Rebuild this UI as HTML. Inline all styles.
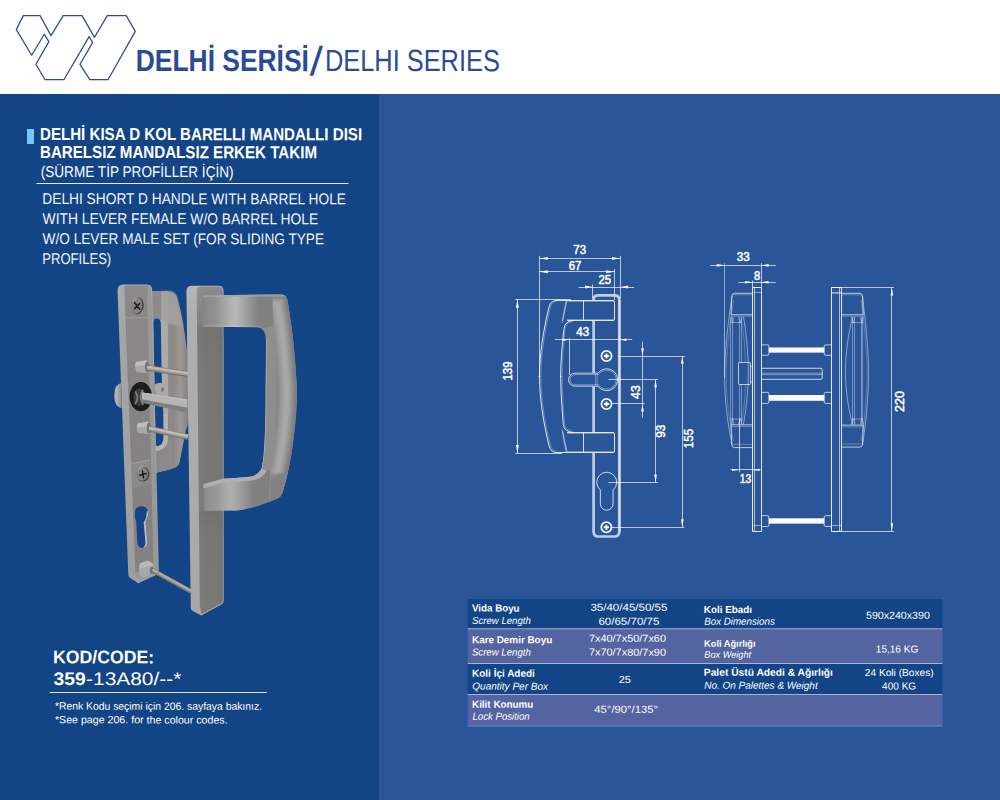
<!DOCTYPE html>
<html lang="tr">
<head>
<meta charset="utf-8">
<title>DELHİ SERİSİ / DELHI SERIES</title>
<style>
html,body{margin:0;padding:0;background:#fff;}
body{width:1000px;height:800px;overflow:hidden;}
svg{display:block;font-family:"Liberation Sans",sans-serif;}
</style>
</head>
<body>
<svg width="1000" height="800" viewBox="0 0 1000 800">
<rect x="0" y="0" width="1000" height="94" fill="#ffffff"/>
<rect x="0" y="94" width="379" height="706" fill="#124486"/>
<rect x="379" y="94" width="621" height="706" fill="#2a5699"/>
<rect x="467.7" y="599.0" width="474.7" height="29.4" fill="#124486"/>
<rect x="467.7" y="629.2" width="474.7" height="33.9" fill="#5464a0"/>
<rect x="467.7" y="664.0" width="474.7" height="30.1" fill="#124486"/>
<rect x="467.7" y="695.0" width="474.7" height="31.0" fill="#5464a0"/>
<rect x="467.7" y="628.3" width="474.7" height="1" fill="#a3b2da"/>
<rect x="467.7" y="663.0" width="474.7" height="1" fill="#a3b2da"/>
<rect x="467.7" y="694.0" width="474.7" height="1" fill="#a3b2da"/>
<rect x="467.7" y="725.6" width="474.7" height="0.8" fill="#7f8fc4"/>
<polygon points="23.3,15.6 40.1,15.6 51.0,35.6 63.2,15.6 82.1,15.6 94.4,37.4 107.3,15.6 126.2,15.6 135.3,31.4 108.0,79.7 89.8,79.7 80.0,64.3 92.6,42.6 89.1,36.6 63.9,79.7 45.0,79.7 35.9,64.3 48.9,41.6 44.3,34.2 31.7,55.2 16.3,29.6" fill="none" stroke="#2b4b99" stroke-width="1.25" stroke-linejoin="round"/>
<text transform="rotate(0.05 135.8 71.0)" x="135.8" y="71.0" font-size="30.7" font-weight="bold" font-style="normal" text-anchor="start" fill="#2b4b99" textLength="173.1" lengthAdjust="spacingAndGlyphs">DELHİ SERİSİ</text>
<text transform="translate(309.6,74.6) skewX(-10.5) scale(1,1.345)" x="0" y="0" font-size="30" font-weight="bold" fill="#2b4b99">/</text>
<text transform="rotate(0.05 324.9 71.0)" x="324.9" y="71.0" font-size="30.7" font-weight="normal" font-style="normal" text-anchor="start" fill="#2b4b99" textLength="175.0" lengthAdjust="spacingAndGlyphs">DELHI SERIES</text>
<text transform="rotate(0.05 40.0 140.0)" x="40.0" y="140.0" font-size="17.4" font-weight="bold" font-style="normal" text-anchor="start" fill="#ffffff" textLength="322.1" lengthAdjust="spacingAndGlyphs">DELHİ KISA D KOL BARELLI MANDALLI DISI</text>
<text transform="rotate(0.05 40.0 158.0)" x="40.0" y="158.0" font-size="17.4" font-weight="bold" font-style="normal" text-anchor="start" fill="#ffffff" textLength="277.0" lengthAdjust="spacingAndGlyphs">BARELSIZ MANDALSIZ ERKEK TAKIM</text>
<text transform="rotate(0.05 40.7 177.0)" x="40.7" y="177.0" font-size="15.6" font-weight="normal" font-style="normal" text-anchor="start" fill="#ffffff" textLength="192.9" lengthAdjust="spacingAndGlyphs">(SÜRME TİP PROFİLLER İÇİN)</text>
<text transform="rotate(0.05 42.3 204.0)" x="42.3" y="204.0" font-size="15.6" font-weight="normal" font-style="normal" text-anchor="start" fill="#f1f4fa" textLength="303.7" lengthAdjust="spacingAndGlyphs">DELHI SHORT D HANDLE WITH BARREL HOLE</text>
<text transform="rotate(0.05 42.6 224.0)" x="42.6" y="224.0" font-size="15.6" font-weight="normal" font-style="normal" text-anchor="start" fill="#f1f4fa" textLength="275.7" lengthAdjust="spacingAndGlyphs">WITH LEVER FEMALE W/O BARREL HOLE</text>
<text transform="rotate(0.05 42.6 244.0)" x="42.6" y="244.0" font-size="15.6" font-weight="normal" font-style="normal" text-anchor="start" fill="#f1f4fa" textLength="281.4" lengthAdjust="spacingAndGlyphs">W/O LEVER MALE SET (FOR SLIDING TYPE</text>
<text transform="rotate(0.05 42.3 264.0)" x="42.3" y="264.0" font-size="15.6" font-weight="normal" font-style="normal" text-anchor="start" fill="#f1f4fa" textLength="68.9" lengthAdjust="spacingAndGlyphs">PROFILES)</text>
<text transform="rotate(0.05 53.1 663.3)" x="53.1" y="663.3" font-size="18.2" font-weight="bold" font-style="normal" text-anchor="start" fill="#ffffff" textLength="101.0" lengthAdjust="spacingAndGlyphs">KOD/CODE:</text>
<text transform="rotate(0.05 53.6 684.9)" x="53.6" y="684.9" font-size="18.2" font-weight="bold" font-style="normal" text-anchor="start" fill="#ffffff" textLength="32.3" lengthAdjust="spacingAndGlyphs">359</text>
<text transform="rotate(0.05 86.1 684.9)" x="86.1" y="684.9" font-size="18.2" font-weight="normal" font-style="normal" text-anchor="start" fill="#ffffff" textLength="95.2" lengthAdjust="spacingAndGlyphs">-13A80/--*</text>
<text transform="rotate(0.05 54.9 709.6)" x="54.9" y="709.6" font-size="10.5" font-weight="normal" font-style="normal" text-anchor="start" fill="#ffffff" textLength="207.1" lengthAdjust="spacingAndGlyphs">*Renk Kodu seçimi için 206. sayfaya bakınız.</text>
<text transform="rotate(0.05 54.9 723.3)" x="54.9" y="723.3" font-size="10.5" font-weight="normal" font-style="normal" text-anchor="start" fill="#ffffff" textLength="172.7" lengthAdjust="spacingAndGlyphs">*See page 206. for the colour codes.</text>
<text transform="rotate(0.05 472.0 611.6)" x="472.0" y="611.6" font-size="10.2" font-weight="bold" font-style="normal" text-anchor="start" fill="#ffffff" textLength="47.6" lengthAdjust="spacingAndGlyphs">Vida Boyu</text>
<text transform="rotate(0.05 472.0 623.9)" x="472.0" y="623.9" font-size="10.2" font-weight="normal" font-style="italic" text-anchor="start" fill="#ffffff" textLength="58.8" lengthAdjust="spacingAndGlyphs">Screw Length</text>
<text transform="rotate(0.05 472.0 643.3)" x="472.0" y="643.3" font-size="10.2" font-weight="bold" font-style="normal" text-anchor="start" fill="#ffffff" textLength="80.2" lengthAdjust="spacingAndGlyphs">Kare Demir Boyu</text>
<text transform="rotate(0.05 471.9 655.6)" x="471.9" y="655.6" font-size="10.2" font-weight="normal" font-style="italic" text-anchor="start" fill="#ffffff" textLength="58.9" lengthAdjust="spacingAndGlyphs">Screw Length</text>
<text transform="rotate(0.05 472.0 676.8)" x="472.0" y="676.8" font-size="10.2" font-weight="bold" font-style="normal" text-anchor="start" fill="#ffffff" textLength="62.9" lengthAdjust="spacingAndGlyphs">Koli İçi Adedi</text>
<text transform="rotate(0.05 472.3 689.6)" x="472.3" y="689.6" font-size="10.2" font-weight="normal" font-style="italic" text-anchor="start" fill="#ffffff" textLength="75.8" lengthAdjust="spacingAndGlyphs">Quantity Per Box</text>
<text transform="rotate(0.05 472.0 707.7)" x="472.0" y="707.7" font-size="10.2" font-weight="bold" font-style="normal" text-anchor="start" fill="#ffffff" textLength="61.4" lengthAdjust="spacingAndGlyphs">Kilit Konumu</text>
<text transform="rotate(0.05 472.5 719.7)" x="472.5" y="719.7" font-size="10.2" font-weight="normal" font-style="italic" text-anchor="start" fill="#ffffff" textLength="57.2" lengthAdjust="spacingAndGlyphs">Lock Position</text>
<text transform="rotate(0.05 590.4 610.8)" x="590.4" y="610.8" font-size="10.2" font-weight="normal" font-style="normal" text-anchor="start" fill="#ffffff" textLength="77.0" lengthAdjust="spacingAndGlyphs">35/40/45/50/55</text>
<text transform="rotate(0.05 598.4 624.7)" x="598.4" y="624.7" font-size="10.2" font-weight="normal" font-style="normal" text-anchor="start" fill="#ffffff" textLength="61.0" lengthAdjust="spacingAndGlyphs">60/65/70/75</text>
<text transform="rotate(0.05 588.9 641.7)" x="588.9" y="641.7" font-size="10.2" font-weight="normal" font-style="normal" text-anchor="start" fill="#ffffff" textLength="77.1" lengthAdjust="spacingAndGlyphs">7x40/7x50/7x60</text>
<text transform="rotate(0.05 588.9 655.6)" x="588.9" y="655.6" font-size="10.2" font-weight="normal" font-style="normal" text-anchor="start" fill="#ffffff" textLength="77.1" lengthAdjust="spacingAndGlyphs">7x70/7x80/7x90</text>
<text transform="rotate(0.05 618.7 682.9)" x="618.7" y="682.9" font-size="10.2" font-weight="normal" font-style="normal" text-anchor="start" fill="#ffffff" textLength="12.2" lengthAdjust="spacingAndGlyphs">25</text>
<text transform="rotate(0.05 594.3 712.8)" x="594.3" y="712.8" font-size="10.2" font-weight="normal" font-style="normal" text-anchor="start" fill="#ffffff" textLength="63.8" lengthAdjust="spacingAndGlyphs">45°/90°/135°</text>
<text transform="rotate(0.05 703.8 612.9)" x="703.8" y="612.9" font-size="10.2" font-weight="bold" font-style="normal" text-anchor="start" fill="#ffffff" textLength="48.3" lengthAdjust="spacingAndGlyphs">Koli Ebadı</text>
<text transform="rotate(0.05 704.2 624.7)" x="704.2" y="624.7" font-size="10.2" font-weight="normal" font-style="italic" text-anchor="start" fill="#ffffff" textLength="70.6" lengthAdjust="spacingAndGlyphs">Box Dimensions</text>
<text transform="rotate(0.05 704.1 646.8)" x="704.1" y="646.8" font-size="9.3" font-weight="bold" font-style="normal" text-anchor="start" fill="#ffffff" textLength="51.5" lengthAdjust="spacingAndGlyphs">Koli Ağırlığı</text>
<text transform="rotate(0.05 704.3 657.7)" x="704.3" y="657.7" font-size="9.3" font-weight="normal" font-style="italic" text-anchor="start" fill="#ffffff" textLength="46.8" lengthAdjust="spacingAndGlyphs">Box Weight</text>
<text transform="rotate(0.05 703.8 675.7)" x="703.8" y="675.7" font-size="10.2" font-weight="bold" font-style="normal" text-anchor="start" fill="#ffffff" textLength="129.1" lengthAdjust="spacingAndGlyphs">Palet Üstü Adedi &amp; Ağırlığı</text>
<text transform="rotate(0.05 704.2 688.8)" x="704.2" y="688.8" font-size="10.2" font-weight="normal" font-style="italic" text-anchor="start" fill="#ffffff" textLength="113.5" lengthAdjust="spacingAndGlyphs">No. On Palettes &amp; Weight</text>
<text transform="rotate(0.05 866.0 618.8)" x="866.0" y="618.8" font-size="10.2" font-weight="normal" font-style="normal" text-anchor="start" fill="#ffffff" textLength="63.8" lengthAdjust="spacingAndGlyphs">590x240x390</text>
<text transform="rotate(0.05 875.8 652.4)" x="875.8" y="652.4" font-size="10.2" font-weight="normal" font-style="normal" text-anchor="start" fill="#ffffff" textLength="42.5" lengthAdjust="spacingAndGlyphs">15,16 KG</text>
<text transform="rotate(0.05 864.8 676.0)" x="864.8" y="676.0" font-size="10.2" font-weight="normal" font-style="normal" text-anchor="start" fill="#ffffff" textLength="68.8" lengthAdjust="spacingAndGlyphs">24 Koli (Boxes)</text>
<text transform="rotate(0.05 882.1 689.6)" x="882.1" y="689.6" font-size="10.2" font-weight="normal" font-style="normal" text-anchor="start" fill="#ffffff" textLength="34.1" lengthAdjust="spacingAndGlyphs">400 KG</text>
<rect x="27" y="129" width="7" height="15" fill="#72cbf2"/>
<rect x="36.4" y="183" width="312" height="1" fill="#e6ecf7"/>
<rect x="49.6" y="692" width="217.2" height="1" fill="#dfe6f3"/>
<g fill="none" stroke="#ffffff" stroke-linecap="butt" stroke-linejoin="round">
<path d="M539.30,258.50 L620.50,258.50" stroke-width="0.85" stroke-opacity="0.8"/>
<polygon points="539.30,258.40 547.80,256.95 547.80,259.85" fill="#fff" fill-opacity="0.95" stroke="none"/>
<polygon points="620.50,258.40 612.00,256.95 612.00,259.85" fill="#fff" fill-opacity="0.95" stroke="none"/>
<text x="579.70" y="253.60" font-size="12.0" text-anchor="middle" textLength="12.8" lengthAdjust="spacingAndGlyphs" fill="#fff" stroke="#fff" stroke-width="0.55" stroke-opacity="0.9">73</text>
<path d="M539.50,255.80 L539.50,377.00" stroke-width="0.85" stroke-opacity="0.8"/>
<path d="M620.50,255.80 L620.50,298.50" stroke-width="0.85" stroke-opacity="0.8"/>
<path d="M539.30,271.50 L614.60,271.50" stroke-width="0.85" stroke-opacity="0.8"/>
<polygon points="539.30,271.80 547.80,270.35 547.80,273.25" fill="#fff" fill-opacity="0.95" stroke="none"/>
<polygon points="614.60,271.80 606.10,270.35 606.10,273.25" fill="#fff" fill-opacity="0.95" stroke="none"/>
<text x="575.10" y="270.10" font-size="12.0" text-anchor="middle" textLength="12.7" lengthAdjust="spacingAndGlyphs" fill="#fff" stroke="#fff" stroke-width="0.55" stroke-opacity="0.9">67</text>
<path d="M614.50,269.00 L614.50,300.00" stroke-width="0.85" stroke-opacity="0.8"/>
<path d="M578.50,287.50 L634.20,287.50" stroke-width="0.85" stroke-opacity="0.8"/>
<polygon points="592.80,287.00 585.00,285.55 585.00,288.45" fill="#fff" fill-opacity="0.95" stroke="none"/>
<polygon points="620.40,287.00 628.20,285.55 628.20,288.45" fill="#fff" fill-opacity="0.95" stroke="none"/>
<text x="604.80" y="283.75" font-size="12.0" text-anchor="middle" textLength="12.7" lengthAdjust="spacingAndGlyphs" fill="#fff" stroke="#fff" stroke-width="0.55" stroke-opacity="0.9">25</text>
<path d="M592.50,284.40 L592.50,298.70" stroke-width="0.85" stroke-opacity="0.8"/>
<path d="M593.6,300 L593.6,300 Q593.6,295.4 598.4,295.4 L614.4,295.4 Q619.3,295.4 619.3,300 L619.3,531.8 Q619.3,536.5 614.4,536.5 L598.4,536.5 Q593.6,536.5 593.6,531.8 L593.6,453" stroke-width="2.7" stroke-opacity="0.7" fill="none"/>
<path d="M593.6,321 L593.6,373 M593.6,386.4 L593.6,432" stroke-width="2.7" stroke-opacity="0.7" fill="none"/>
<path d="M619.9,300 L619.9,531.8" stroke-width="1.6" stroke-opacity="0.45" fill="none"/>
<path d="M567.2,300.5 L613,300.5 Q614.5,300.5 614.5,302.0 L614.5,319.0 Q614.5,320.5 613,320.5 L567.2,320.5" stroke-width="1.0" stroke-opacity="0.85" fill="none"/>
<path d="M567.2,301.5 L613.4,301.5 M567.2,319.5 L613.4,319.5" stroke-width="1.0" stroke-opacity="0.35" fill="none"/>
<path d="M583.50,300.50 L583.50,320.50" stroke-width="1.0" stroke-opacity="0.8"/>
<path d="M567.2,432.5 L613,432.5 Q614.5,432.5 614.5,434.0 L614.5,451.0 Q614.5,452.5 613,452.5 L567.2,452.5" stroke-width="1.0" stroke-opacity="0.85" fill="none"/>
<path d="M567.2,433.5 L613.4,433.5 M567.2,451.5 L613.4,451.5" stroke-width="1.0" stroke-opacity="0.35" fill="none"/>
<path d="M583.50,432.50 L583.50,452.50" stroke-width="1.0" stroke-opacity="0.8"/>
<path d="M567.2,300.5 L556,300.5 Q550.6,300.8 549,307 C543.2,331 539.5,355 539.5,376.3 C539.5,398 543.2,422 549,445.5 Q550.6,452.2 556,452.5 L567.2,452.5" stroke-width="1.0" stroke-opacity="0.85" fill="none"/>
<path d="M556.5,301.4 Q551.6,301.8 550.3,307.6 C544.6,331 540.9,355 540.9,376.3 C540.9,398 544.6,422 550.3,444.9 Q551.6,450.7 556.5,451.1" stroke-width="0.6" stroke-opacity="0.5" fill="none"/>
<path d="M574,320.5 Q564.6,321 564,328.5 C562,346 560.7,361 560.7,376.3 C560.7,392 562,408 563.3,424.5 Q564,432 574,432.5" stroke-width="1.0" stroke-opacity="0.85" fill="none"/>
<path d="M572,321.8 Q565.8,322.4 565.3,328.8 C563.4,346 562.1,361 562.1,376.3 C562.1,392 563.4,408 564.6,424 Q565.2,430 572,430.5" stroke-width="0.6" stroke-opacity="0.45" fill="none"/>
<path d="M567.2,300.2 L562.7,320.6 M566,300.6 L562,323" stroke-width="0.7" stroke-opacity="0.65" fill="none"/>
<path d="M567.2,452.3 L562.7,431.6 M566,451.9 L562,429.4" stroke-width="0.7" stroke-opacity="0.65" fill="none"/>
<path d="M538.60,376.50 L540.40,376.50" stroke-width="0.8" stroke-opacity="0.8"/>
<path d="M559.90,376.50 L561.60,376.50" stroke-width="0.8" stroke-opacity="0.8"/>
<path d="M515.20,299.50 L571.00,299.50" stroke-width="0.85" stroke-opacity="0.8"/>
<path d="M515.20,453.50 L562.00,453.50" stroke-width="0.85" stroke-opacity="0.8"/>
<path d="M517.50,299.50 L517.50,453.20" stroke-width="0.85" stroke-opacity="0.8"/>
<polygon points="517.40,299.50 515.95,307.80 518.85,307.80" fill="#fff" fill-opacity="0.95" stroke="none"/>
<polygon points="517.40,453.20 515.95,444.90 518.85,444.90" fill="#fff" fill-opacity="0.95" stroke="none"/>
<text transform="translate(511.70,371.00) rotate(-90)" x="0" y="0" font-size="12.0" text-anchor="middle" textLength="19.0" lengthAdjust="spacingAndGlyphs" fill="#fff" stroke="#fff" stroke-width="0.55" stroke-opacity="0.9">139</text>
<path d="M554.90,339.50 L632.20,339.50" stroke-width="0.85" stroke-opacity="0.8"/>
<polygon points="569.20,339.80 562.20,338.50 562.20,341.10" fill="#fff" fill-opacity="0.95" stroke="none"/>
<polygon points="620.40,339.80 626.40,338.50 626.40,341.10" fill="#fff" fill-opacity="0.95" stroke="none"/>
<text x="582.80" y="336.20" font-size="12.0" text-anchor="middle" textLength="13.0" lengthAdjust="spacingAndGlyphs" fill="#fff" stroke="#fff" stroke-width="0.55" stroke-opacity="0.9">43</text>
<path d="M569.50,338.00 L569.50,375.00" stroke-width="0.85" stroke-opacity="0.8"/>
<circle cx="606.50" cy="356.00" r="5.1" stroke-width="1.75" stroke-opacity="0.95" fill="none"/>
<path d="M603.9,356 L609.1,356 M606.5,353.4 L606.5,358.6" stroke-width="1.9" stroke-opacity="0.97" fill="none"/>
<circle cx="606.50" cy="404.00" r="5.1" stroke-width="1.75" stroke-opacity="0.95" fill="none"/>
<path d="M603.9,404 L609.1,404 M606.5,401.4 L606.5,406.6" stroke-width="1.9" stroke-opacity="0.97" fill="none"/>
<circle cx="606.40" cy="527.30" r="5.1" stroke-width="1.75" stroke-opacity="0.95" fill="none"/>
<path d="M603.8,527.3 L609.0,527.3 M606.4,524.6999999999999 L606.4,529.9" stroke-width="1.9" stroke-opacity="0.97" fill="none"/>
<path d="M597.83,373.20 A11.0,11.0 0 1 1 597.83,386.20 L575.00,386.20 A6.5,6.5 0 0 1 575.00,373.20 Z" stroke-width="0.85" stroke-opacity="0.85" fill="none"/>
<path d="M598.57,374.60 A9.6,9.6 0 1 1 598.57,384.80 L575.10,384.80 A5.1,5.1 0 0 1 575.10,374.60 Z" stroke-width="0.65" stroke-opacity="0.6" fill="none"/>
<path d="M595.6,373.6 L595.6,385.8 M597.2,374 L597.2,385.4" stroke-width="0.6" stroke-opacity="0.55" fill="none"/>
<path d="M600.35,489.98 A10.0,10.0 0 1 1 613.05,489.98 L613.05,503.85 A6.35,6.35 0 0 1 600.35,503.85 Z" stroke-width="0.9" stroke-opacity="0.85" fill="none"/>
<path d="M617.50,356.50 L685.20,356.50" stroke-width="0.85" stroke-opacity="0.8"/>
<path d="M608.50,379.50 L657.90,379.50" stroke-width="0.85" stroke-opacity="0.8"/>
<path d="M612.40,403.50 L644.90,403.50" stroke-width="0.85" stroke-opacity="0.8"/>
<path d="M608.40,482.50 L657.75,482.50" stroke-width="0.85" stroke-opacity="0.8"/>
<path d="M611.60,527.50 L684.40,527.50" stroke-width="0.85" stroke-opacity="0.8"/>
<path d="M642.50,341.70 L642.50,417.75" stroke-width="0.85" stroke-opacity="0.8"/>
<polygon points="642.50,356.00 641.20,348.20 643.80,348.20" fill="#fff" fill-opacity="0.95" stroke="none"/>
<polygon points="642.50,403.80 641.20,411.60 643.80,411.60" fill="#fff" fill-opacity="0.95" stroke="none"/>
<text transform="translate(640.30,392.10) rotate(-90)" x="0" y="0" font-size="12.0" text-anchor="middle" textLength="13.6" lengthAdjust="spacingAndGlyphs" fill="#fff" stroke="#fff" stroke-width="0.55" stroke-opacity="0.9">43</text>
<path d="M655.50,379.80 L655.50,482.25" stroke-width="0.85" stroke-opacity="0.8"/>
<polygon points="655.60,379.80 654.30,387.60 656.90,387.60" fill="#fff" fill-opacity="0.95" stroke="none"/>
<polygon points="655.60,482.25 654.30,474.45 656.90,474.45" fill="#fff" fill-opacity="0.95" stroke="none"/>
<text transform="translate(664.60,431.20) rotate(-90)" x="0" y="0" font-size="12.0" text-anchor="middle" textLength="13.0" lengthAdjust="spacingAndGlyphs" fill="#fff" stroke="#fff" stroke-width="0.55" stroke-opacity="0.9">93</text>
<path d="M682.50,356.00 L682.50,527.10" stroke-width="0.85" stroke-opacity="0.8"/>
<polygon points="682.30,356.00 681.00,363.80 683.60,363.80" fill="#fff" fill-opacity="0.95" stroke="none"/>
<polygon points="682.30,527.10 681.00,519.30 683.60,519.30" fill="#fff" fill-opacity="0.95" stroke="none"/>
<text transform="translate(693.00,438.60) rotate(-90)" x="0" y="0" font-size="12.0" text-anchor="middle" textLength="19.5" lengthAdjust="spacingAndGlyphs" fill="#fff" stroke="#fff" stroke-width="0.55" stroke-opacity="0.9">155</text>
<path d="M710.40,265.50 L775.80,265.50" stroke-width="0.85" stroke-opacity="0.8"/>
<polygon points="724.40,265.35 716.80,264.05 716.80,266.65" fill="#fff" fill-opacity="0.95" stroke="none"/>
<polygon points="761.10,265.35 768.70,264.05 768.70,266.65" fill="#fff" fill-opacity="0.95" stroke="none"/>
<text x="743.30" y="260.50" font-size="12.0" text-anchor="middle" textLength="13.0" lengthAdjust="spacingAndGlyphs" fill="#fff" stroke="#fff" stroke-width="0.55" stroke-opacity="0.9">33</text>
<path d="M724.50,263.10 L724.50,378.00" stroke-width="0.85" stroke-opacity="0.6"/>
<path d="M761.50,263.10 L761.50,287.50" stroke-width="0.85" stroke-opacity="0.8"/>
<path d="M738.35,282.50 L775.80,282.50" stroke-width="0.85" stroke-opacity="0.8"/>
<polygon points="752.65,282.25 745.05,280.95 745.05,283.55" fill="#fff" fill-opacity="0.95" stroke="none"/>
<polygon points="761.10,282.25 768.70,280.95 768.70,283.55" fill="#fff" fill-opacity="0.95" stroke="none"/>
<text x="757.10" y="280.00" font-size="12.0" text-anchor="middle" textLength="6.2" lengthAdjust="spacingAndGlyphs" fill="#fff" stroke="#fff" stroke-width="0.55" stroke-opacity="0.9">8</text>
<path d="M752.50,280.30 L752.50,287.50" stroke-width="0.85" stroke-opacity="0.8"/>
<rect x="752.50" y="287.50" width="9.00" height="244.00" rx="0" ry="0" stroke-width="1.0" stroke-opacity="0.88" fill="none"/>
<path d="M754.50,287.50 L754.50,531.25" stroke-width="1.0" stroke-opacity="0.6"/>
<path d="M752.65,292.50 L761.10,292.50" stroke-width="0.7" stroke-opacity="0.65"/>
<path d="M752.65,525.50 L761.10,525.50" stroke-width="0.7" stroke-opacity="0.65"/>
<rect x="831.50" y="287.50" width="10.00" height="244.00" rx="0" ry="0" stroke-width="1.0" stroke-opacity="0.88" fill="none"/>
<path d="M839.50,287.50 L839.50,531.25" stroke-width="1.0" stroke-opacity="0.6"/>
<path d="M831.85,292.50 L841.50,292.50" stroke-width="0.7" stroke-opacity="0.65"/>
<path d="M831.85,525.50 L841.50,525.50" stroke-width="0.7" stroke-opacity="0.65"/>
<path d="M752.65,293.3 L734.5,293.3 Q732,293.5 731.85,296 L731,314.75 L752.65,314.75" stroke-width="0.85" stroke-opacity="0.8" fill="none"/>
<path d="M731,316.2 L752.65,316.2 M733,294.8 L752.65,294.8" stroke-width="0.6" stroke-opacity="0.5" fill="none"/>
<path d="M752.65,447.6 L734.5,447.6 Q732,447.4 731.85,445 L731,424.85 L752.65,424.85" stroke-width="0.85" stroke-opacity="0.8" fill="none"/>
<path d="M731,426.6 L752.65,426.6 M733,444.4 L752.65,444.4" stroke-width="0.6" stroke-opacity="0.5" fill="none"/>
<path d="M841.5,293.3 L859.8,293.3 Q862.3,293.5 862.45,296 L863.3,314.75 L841.5,314.75" stroke-width="0.85" stroke-opacity="0.8" fill="none"/>
<path d="M831.85,293.3 L841.5,293.3" stroke-width="0.7" stroke-opacity="0.7" fill="none"/>
<path d="M863.3,316.2 L841.5,316.2 M861.3,294.8 L841.5,294.8" stroke-width="0.6" stroke-opacity="0.5" fill="none"/>
<path d="M841.5,447.1 L859.8,447.1 Q862.3,446.9 862.45,444.6 L863.3,425.1 L841.5,425.1" stroke-width="0.85" stroke-opacity="0.8" fill="none"/>
<path d="M863.3,426.8 L841.5,426.8 M861.3,444 L841.5,444" stroke-width="0.6" stroke-opacity="0.5" fill="none"/>
<path d="M732,296 C727,330 724.6,355 724.6,377 C724.6,398 727,420 732,445" stroke-width="0.7" stroke-opacity="0.65" fill="none"/>
<path d="M733.5,300 C729,330 726.2,355 726.2,377 C726.2,398 729,420 733.5,441" stroke-width="0.5" stroke-opacity="0.45" fill="none"/>
<path d="M743.5,317 C746.5,335 748.4,355 748.4,371 C748.4,388 746.5,408 743.5,424" stroke-width="0.7" stroke-opacity="0.65" fill="none"/>
<path d="M741.5,319 C744,335 745.3,350 745.4,362.4 M745.4,384.5 C745.2,398 744,410 741.5,423" stroke-width="0.5" stroke-opacity="0.45" fill="none"/>
<path d="M730.50,317.00 L730.50,424.50" stroke-width="0.6" stroke-opacity="0.6"/>
<path d="M732.50,317.00 L732.50,424.50" stroke-width="0.6" stroke-opacity="0.6"/>
<path d="M739.50,317.00 L739.50,362.40" stroke-width="0.6" stroke-opacity="0.6"/>
<path d="M739.50,384.50 L739.50,424.50" stroke-width="0.6" stroke-opacity="0.6"/>
<path d="M741.50,317.00 L741.50,362.40" stroke-width="0.6" stroke-opacity="0.6"/>
<path d="M741.50,384.50 L741.50,424.50" stroke-width="0.6" stroke-opacity="0.6"/>
<path d="M731,317 L732.5,323 L734,317 M738.5,317 L740.3,323 L742,317 M730.5,322.5 L741.6,322.5" stroke-width="0.6" stroke-opacity="0.6" fill="none"/>
<path d="M731,424.5 L732.5,418.5 L734,424.5 M738.5,424.5 L740.3,418.5 L742,424.5 M730.5,419 L741.6,419" stroke-width="0.6" stroke-opacity="0.6" fill="none"/>
<rect x="738.50" y="362.50" width="12.00" height="22.00" rx="0.8" ry="0.8" stroke-width="0.85" stroke-opacity="0.8" fill="none"/>
<path d="M750,366.3 L752.65,366.3 M750,381.9 L752.65,381.9" stroke-width="0.7" stroke-opacity="0.7" fill="none"/>
<path d="M852.5,317 C848,335 845.5,355 845.5,371 C845.5,388 848,408 852.5,424.5" stroke-width="0.7" stroke-opacity="0.65" fill="none"/>
<path d="M862.5,296 C866.5,330 868.6,355 868.6,371 C868.6,392 866.5,420 862.5,445" stroke-width="0.7" stroke-opacity="0.65" fill="none"/>
<path d="M861,300 C865,330 867,355 867,371 C867,392 865,420 861,441" stroke-width="0.5" stroke-opacity="0.45" fill="none"/>
<path d="M852.50,317.00 L852.50,424.50" stroke-width="0.6" stroke-opacity="0.6"/>
<path d="M854.50,317.00 L854.50,424.50" stroke-width="0.6" stroke-opacity="0.6"/>
<path d="M861.50,317.00 L861.50,424.50" stroke-width="0.6" stroke-opacity="0.6"/>
<path d="M862.50,317.00 L862.50,424.50" stroke-width="0.6" stroke-opacity="0.6"/>
<path d="M851.5,317 L853.2,323 L855,317 M860,317 L861.8,323 L863.6,317 M852.2,322.5 L862.9,322.5" stroke-width="0.6" stroke-opacity="0.6" fill="none"/>
<path d="M851.5,424.5 L853.2,418.5 L855,424.5 M860,424.5 L861.8,418.5 L863.6,424.5 M852.2,419 L862.9,419" stroke-width="0.6" stroke-opacity="0.6" fill="none"/>
<rect x="768.9" y="347.45" width="55.3" height="5.20" fill="#fff" fill-opacity="0.97" stroke="none"/>
<path d="M761.6,344.85 L767.6,344.85 Q768.9,344.85 768.9,346.15000000000003 L768.9,353.95 Q768.9,355.25 767.6,355.25 L761.6,355.25" stroke-width="0.85" stroke-opacity="0.8" fill="none"/>
<path d="M831.6,344.85 L825.5,344.85 Q824.2,344.85 824.2,346.15000000000003 L824.2,353.95 Q824.2,355.25 825.5,355.25 L831.6,355.25" stroke-width="0.85" stroke-opacity="0.8" fill="none"/>
<rect x="768.9" y="395.0" width="55.3" height="5.80" fill="#fff" fill-opacity="0.97" stroke="none"/>
<path d="M761.6,392.35 L767.6,392.35 Q768.9,392.35 768.9,393.65000000000003 L768.9,402.09999999999997 Q768.9,403.4 767.6,403.4 L761.6,403.4" stroke-width="0.85" stroke-opacity="0.8" fill="none"/>
<path d="M831.6,392.35 L825.5,392.35 Q824.2,392.35 824.2,393.65000000000003 L824.2,402.09999999999997 Q824.2,403.4 825.5,403.4 L831.6,403.4" stroke-width="0.85" stroke-opacity="0.8" fill="none"/>
<rect x="768.9" y="518.3" width="55.3" height="5.35" fill="#fff" fill-opacity="0.97" stroke="none"/>
<path d="M761.6,515.7 L767.6,515.7 Q768.9,515.7 768.9,517.0 L768.9,525.2 Q768.9,526.5 767.6,526.5 L761.6,526.5" stroke-width="0.85" stroke-opacity="0.8" fill="none"/>
<path d="M831.6,515.7 L825.5,515.7 Q824.2,515.7 824.2,517.0 L824.2,525.2 Q824.2,526.5 825.5,526.5 L831.6,526.5" stroke-width="0.85" stroke-opacity="0.8" fill="none"/>
<path d="M761.6,368.25 L820.8,368.25 Q822.2,368.25 822.2,369.7 L822.2,377.9 Q822.2,379.3 820.8,379.3 L761.6,379.3" stroke-width="0.9" stroke-opacity="0.85" fill="none"/>
<path d="M761.6,373.2 L822.2,373.2 M761.6,374.6 L822.2,374.6" stroke-width="0.6" stroke-opacity="0.7" fill="none"/>
<path d="M831.20,287.50 L893.90,287.50" stroke-width="0.85" stroke-opacity="0.8"/>
<path d="M832.00,531.50 L893.90,531.50" stroke-width="0.85" stroke-opacity="0.8"/>
<path d="M891.50,287.70 L891.50,531.00" stroke-width="0.85" stroke-opacity="0.8"/>
<polygon points="891.90,287.70 890.60,295.50 893.20,295.50" fill="#fff" fill-opacity="0.95" stroke="none"/>
<polygon points="891.90,531.00 890.60,523.20 893.20,523.20" fill="#fff" fill-opacity="0.95" stroke="none"/>
<text transform="translate(904.00,401.50) rotate(-90)" x="0" y="0" font-size="12.0" text-anchor="middle" textLength="20.9" lengthAdjust="spacingAndGlyphs" fill="#fff" stroke="#fff" stroke-width="0.55" stroke-opacity="0.9">220</text>
<path d="M730.45,469.50 L760.50,469.50" stroke-width="0.85" stroke-opacity="0.8"/>
<polygon points="739.00,469.90 732.00,468.70 732.00,471.10" fill="#fff" fill-opacity="0.95" stroke="none"/>
<polygon points="752.65,469.90 759.65,468.70 759.65,471.10" fill="#fff" fill-opacity="0.95" stroke="none"/>
<path d="M739.50,419.00 L739.50,472.30" stroke-width="0.85" stroke-opacity="0.8"/>
<text x="745.50" y="482.80" font-size="12.0" text-anchor="middle" textLength="11.5" lengthAdjust="spacingAndGlyphs" fill="#fff" stroke="#fff" stroke-width="0.55" stroke-opacity="0.9">13</text>
</g>
<defs>
<filter id="fSoft" x="-5%" y="-5%" width="110%" height="110%"><feGaussianBlur stdDeviation="0.35"/></filter>
<filter id="fB05" x="-20%" y="-20%" width="140%" height="140%"><feGaussianBlur stdDeviation="0.5"/></filter>
<filter id="fB1" x="-20%" y="-20%" width="140%" height="140%"><feGaussianBlur stdDeviation="0.9"/></filter>
<filter id="fB2" x="-30%" y="-30%" width="160%" height="160%"><feGaussianBlur stdDeviation="1.8"/></filter>
<linearGradient id="gArm" x1="201" y1="0" x2="290" y2="0" gradientUnits="userSpaceOnUse">
 <stop offset="0" stop-color="#7d7d7d"/><stop offset="0.03" stop-color="#868686"/>
 <stop offset="0.18" stop-color="#949494"/><stop offset="0.28" stop-color="#a8a8a8"/>
 <stop offset="0.385" stop-color="#b9b9b9"/><stop offset="0.48" stop-color="#a5a5a5"/>
 <stop offset="0.58" stop-color="#8e8e8e"/><stop offset="0.64" stop-color="#818181"/>
 <stop offset="1" stop-color="#7f7f7f"/>
</linearGradient>
<linearGradient id="gArm2" x1="203" y1="0" x2="290" y2="0" gradientUnits="userSpaceOnUse">
 <stop offset="0" stop-color="#787878"/><stop offset="0.025" stop-color="#8c8c8c"/>
 <stop offset="0.16" stop-color="#999999"/><stop offset="0.31" stop-color="#b0b0b0"/>
 <stop offset="0.42" stop-color="#a0a0a0"/><stop offset="0.52" stop-color="#8c8c8c"/>
 <stop offset="0.58" stop-color="#808080"/><stop offset="1" stop-color="#7e7e7e"/>
</linearGradient>
<linearGradient id="gFront" x1="0" y1="285" x2="0" y2="615" gradientUnits="userSpaceOnUse">
 <stop offset="0" stop-color="#a8a6a4"/><stop offset="0.006" stop-color="#8e8c8a"/>
 <stop offset="0.03" stop-color="#8a8886"/><stop offset="0.12" stop-color="#7c7a78"/>
 <stop offset="0.13" stop-color="#747270"/><stop offset="0.25" stop-color="#787674"/>
 <stop offset="0.683" stop-color="#797775"/><stop offset="0.69" stop-color="#72706e"/>
 <stop offset="0.75" stop-color="#787674"/><stop offset="1" stop-color="#7b7977"/>
</linearGradient>
<linearGradient id="gBevF" x1="0" y1="285" x2="0" y2="615" gradientUnits="userSpaceOnUse">
 <stop offset="0" stop-color="#b6b6b6"/><stop offset="0.1" stop-color="#afafaf"/><stop offset="1" stop-color="#a8a8a8"/>
</linearGradient>
<linearGradient id="gBevB" x1="0" y1="284" x2="0" y2="585" gradientUnits="userSpaceOnUse">
 <stop offset="0" stop-color="#ababab"/><stop offset="0.15" stop-color="#a5a5a5"/><stop offset="1" stop-color="#9e9e9e"/>
</linearGradient>
<linearGradient id="gBack" x1="0" y1="284" x2="0" y2="585" gradientUnits="userSpaceOnUse">
 <stop offset="0" stop-color="#8d8b89"/><stop offset="0.2" stop-color="#868584"/><stop offset="1" stop-color="#838281"/>
</linearGradient>
<linearGradient id="gBGrip" x1="161.2" y1="0" x2="188" y2="0" gradientUnits="userSpaceOnUse">
 <stop offset="0" stop-color="#adadad"/><stop offset="0.24" stop-color="#a9a9a9"/>
 <stop offset="0.27" stop-color="#8e8b88"/><stop offset="0.45" stop-color="#8a8784"/>
 <stop offset="0.72" stop-color="#9a9794"/><stop offset="0.92" stop-color="#8a8886"/><stop offset="1" stop-color="#838383"/>
</linearGradient>
<linearGradient id="gSpin" x1="0" y1="0" x2="0" y2="1">
 <stop offset="0" stop-color="#bdbdbd"/><stop offset="0.58" stop-color="#b2b2b2"/><stop offset="0.64" stop-color="#878787"/><stop offset="1" stop-color="#7d7d7d"/>
</linearGradient>
<linearGradient id="gKnob" x1="113" y1="0" x2="123" y2="0" gradientUnits="userSpaceOnUse">
 <stop offset="0" stop-color="#a2a2a2"/><stop offset="0.35" stop-color="#b4b4b4"/><stop offset="1" stop-color="#828282"/>
</linearGradient>
<linearGradient id="gFaceX" x1="196" y1="0" x2="223" y2="0" gradientUnits="userSpaceOnUse">
 <stop offset="0" stop-color="#ffffff" stop-opacity="0.05"/><stop offset="0.4" stop-color="#ffffff" stop-opacity="0"/><stop offset="1" stop-color="#000000" stop-opacity="0.03"/>
</linearGradient>
</defs>
<g stroke="none" filter="url(#fSoft)">
<path d="M150,291.2 L168.6,291.2 Q174,291.4 176.6,296 C181.6,312 186,338 187.6,356 L189.4,420 L186,430 L179.5,462.6 Q178.6,466.6 174.6,467.9 L169.75,469.5 L155,472.8 L150,300 Z" fill="url(#gBGrip)"/>
<path d="M150,291.2 L161.4,291.2 L161.4,320 L150,320 Z" fill="#8d8b89" filter="url(#fB05)"/>
<path d="M162,291.2 L168.6,291.2 Q174,291.4 176.6,296 L183,326 L168,324 L162,318 Z" fill="#a3a19e" fill-opacity="0.9" filter="url(#fB1)"/>
<path d="M153.4,322 Q153.6,318.4 157,318.6 Q160.8,319 160.9,324 L161.6,372 L163.4,416 L163.6,435 Q163.6,445.4 158.2,446.2 Q155.7,446.2 155.6,443.6 Z" fill="#124486"/>
<path d="M155.4,446.4 L169,444 L169.4,469.6 L155.6,473 Z" fill="#8c8a88"/>
<path d="M165.9,414 L166.1,437 Q166.2,448 155.8,448.8" stroke="#b2b2b2" stroke-width="4.4" fill="none"/>
<path d="M168.3,414 L168.5,437 Q168.4,449.4 160,451.2" stroke="#7d7b79" stroke-width="0.9" stroke-opacity="0.6" fill="none" filter="url(#fB05)"/>
<path d="M154.7,385 Q155.6,382.8 160.4,383 Q167.6,383.6 168,389 Q168,394.8 162,395.4 L155.4,395.4 Z" fill="#a9a9a9"/>
<ellipse cx="162.6" cy="389.6" rx="1.7" ry="2.3" fill="#7e7e7e"/>
<path d="M146,367.8 L188,374.2" stroke="#7a766f" stroke-width="5.8" fill="none"/>
<path d="M146,367.3 L188,373.7" stroke="#a39f97" stroke-width="4.0" fill="none"/>
<path d="M146,366.8 L188,373.2" stroke="#c2beb6" stroke-width="1.8" fill="none"/>
<path d="M146,428.2 L188,437.0" stroke="#7a766f" stroke-width="5.8" fill="none"/>
<path d="M146,427.7 L188,436.5" stroke="#a39f97" stroke-width="4.0" fill="none"/>
<path d="M146,427.2 L188,436.0" stroke="#c2beb6" stroke-width="1.8" fill="none"/>
<path d="M152.5,570.3 L191,591.6" stroke="#7a766f" stroke-width="4.6" fill="none"/>
<path d="M152.5,569.8 L191,591.1" stroke="#a39f97" stroke-width="2.8" fill="none"/>
<path d="M152.5,569.3 L191,590.6" stroke="#c2beb6" stroke-width="0.6" fill="none"/>
<polygon points="141.8,392.4 187.5,399.4 187.5,412.5 141.8,402.8" fill="#7f7f7f"/>
<polygon points="141.8,392.4 187.5,399.4 187.5,407.8 141.8,399.2" fill="#b4b4b4"/>
<polygon points="141.8,392.4 187.5,399.4 187.5,400.8 141.8,393.6" fill="#c0c0c0"/>
<path d="M122.6,284.4 L147.4,284.4 Q151.9,284.6 152.1,289.4 L158.9,573.8 L138.2,583.2 L129.6,577.6 Q128.4,576.6 128.3,574 L117.5,290 Q117.7,284.6 122.6,284.4 Z" fill="url(#gBevB)"/>
<path d="M126.6,285.6 L147.4,285.6 Q150.8,285.8 151,289.4 L157.6,571.8 L139,580.2 L135.4,573 L124.3,289 Q124.3,285.8 126.6,285.6 Z" fill="url(#gBack)"/>
<path d="M147.8,286 Q150.9,286.4 151,289.4 L157.6,571.8 L153.6,573.6 L147.2,300 Z" fill="#9c9c9c" fill-opacity="0.85"/>
<path d="M135.4,573 L157.6,563 L157.6,571.8 L139,580.2 Z" fill="#999999"/>
<path d="M126,317.6 L147.6,317.6 L148.6,361 L127.6,361 Z" fill="#8a8988"/>
<path d="M125.4,317.2 L147.6,317.2 L147.6,318.2 L125.4,318.2 Z" fill="#9a9a9a"/>
<path d="M131.4,463 L150.4,459.4 L151.2,484 L132.4,488 Z" fill="#8b8a89"/>
<path d="M131.4,463 L150.4,459.4 L150.4,460.6 L131.4,464.2 Z" fill="#a0a0a0"/>
<g transform="rotate(10 137.3 306.0)">
<ellipse cx="137.3" cy="306.0" rx="6.3" ry="8.6" fill="#3e3d3c"/>
<ellipse cx="136.4" cy="305.8" rx="5.8" ry="8.299999999999999" fill="#858382"/>
<path d="M131.9,302.8 Q133.10000000000002,299.0 135.70000000000002,298.0" stroke="#b5b3b1" stroke-width="1.0" fill="none" filter="url(#fB05)"/>
</g>
<path d="M134.70000000000002,302.7 L139.60000000000002,309.0 M139.8,303.5 L134.60000000000002,308.7" stroke="#1f1f1f" stroke-width="1.7" stroke-linecap="round" fill="none"/>
<g transform="rotate(10 143.1 474.4)">
<ellipse cx="143.1" cy="474.4" rx="6.3" ry="7.2" fill="#3e3d3c"/>
<ellipse cx="142.2" cy="474.2" rx="5.8" ry="6.9" fill="#858382"/>
<path d="M137.7,471.2 Q138.9,467.4 141.5,466.4" stroke="#b5b3b1" stroke-width="1.0" fill="none" filter="url(#fB05)"/>
</g>
<path d="M139.9,475.29999999999995 L146.1,473.5 M142.5,471.0 L143.5,477.79999999999995" stroke="#1f1f1f" stroke-width="1.6" stroke-linecap="round" fill="none"/>
<path d="M134.8,513 Q134.9,506.6 141.4,506.3 Q148.2,506.6 148.4,513.4 Q148.2,518.4 145.6,521.2 L147.4,543 Q147.2,548 142.6,548.2 Q138,548 137.4,543 L136.2,521.4 Q134.6,518 134.8,513 Z" fill="#124486"/>
<path d="M145.6,521.2 L147.4,543 Q147.2,548 142.6,548.2 Q145.6,546 145.4,542 L143.6,522 Q146.6,519 146.6,513 Q147.4,509.4 148.2,511.6 Q148.6,517.4 145.6,521.2 Z" fill="#b9b9b9"/>
<path d="M121.4,383 Q114.4,384 114.2,395.4 Q114.4,407 121.8,408.2 Z" fill="url(#gKnob)"/>
<path d="M136.0,362.0 L146.4,360.2 Q149.6,361.0 149.6,367.24 Q149.4,372.6 147.0,373.0 L136.6,372.2 Q133.8,366.6 136.0,362.0 Z" fill="#a8a8a8"/>
<path d="M136.0,362.0 L146.4,360.2 L146.4,365.32 L135.0,366.6 Z" fill="#bcbcbc" filter="url(#fB05)"/>
<ellipse cx="147.2" cy="366.856" rx="2.3" ry="5.4" fill="#757575"/>
<path d="M137.7,423.40000000000003 L148.10000000000002,421.6 Q151.3,422.40000000000003 151.3,428.365 Q151.10000000000002,433.5 148.70000000000002,433.9 L138.29999999999998,433.09999999999997 Q135.5,427.75 137.7,423.40000000000003 Z" fill="#a8a8a8"/>
<path d="M137.7,423.40000000000003 L148.10000000000002,421.6 L148.10000000000002,426.52 L136.7,427.75 Z" fill="#bcbcbc" filter="url(#fB05)"/>
<ellipse cx="148.9" cy="427.996" rx="2.3" ry="5.2" fill="#757575"/>
<path d="M140,563.4 L147.6,560.4 Q153.8,562.6 155,568.2 Q154.6,573.6 151.4,575.6 L141,577.6 Q137.6,570 140,563.4 Z" fill="#a6a6a6"/>
<path d="M140,563.4 L147.6,560.4 Q152,562 153.6,565 L139.4,569 Z" fill="#b8b8b8"/>
<ellipse cx="152.2" cy="570.6" rx="2.4" ry="3.6" fill="#6f6f6f"/>
<path d="M147.4,368.0 L155,369.2" stroke="#7a766f" stroke-width="5.8" fill="none"/>
<path d="M147.4,367.5 L155,368.7" stroke="#a39f97" stroke-width="4.0" fill="none"/>
<path d="M147.4,367.0 L155,368.2" stroke="#c2beb6" stroke-width="1.8" fill="none"/>
<path d="M149,428.8 L157,430.5" stroke="#7a766f" stroke-width="5.8" fill="none"/>
<path d="M149,428.3 L157,430.0" stroke="#a39f97" stroke-width="4.0" fill="none"/>
<path d="M149,427.8 L157,429.5" stroke="#c2beb6" stroke-width="1.8" fill="none"/>
<path d="M152.6,570.3 L158,573.3" stroke="#7a766f" stroke-width="4.6" fill="none"/>
<path d="M152.6,569.8 L158,572.8" stroke="#a39f97" stroke-width="2.8" fill="none"/>
<path d="M152.6,569.3 L158,572.3" stroke="#c2beb6" stroke-width="0.6" fill="none"/>
<ellipse cx="140.8" cy="396.6" rx="11.2" ry="14.6" fill="#1c1c1e"/>
<ellipse cx="139.4" cy="397.2" rx="6.0" ry="8.8" fill="#3c3c3c"/>
<path d="M135.2,391.4 Q139.8,398 134.8,404.2 M143.2,389.8 Q137.6,397.4 143.4,405" stroke="#7d7b78" stroke-width="1.7" fill="none"/>
<polygon points="141.8,392.4 161,395.3 161,406.9 141.8,402.8" fill="#7f7f7f"/>
<polygon points="141.8,392.4 161,395.3 161,402.8 141.8,399.2" fill="#b4b4b4"/>
<polygon points="141.8,392.4 161,395.3 161,396.6 141.8,393.6" fill="#c0c0c0"/>
<path d="M191.2,285.7 L219,285.7 Q223.3,285.9 223.5,290.4 L223.7,600.4 Q223.6,603.4 221.4,604.6 L201.3,615.5 L192.4,610.8 Q190.9,610 190.8,608 L186.4,291 Q186.5,285.9 191.2,285.7 Z" fill="url(#gBevF)"/>
<path d="M199.6,286.6 L219,286.6 Q222.5,286.8 222.7,290.4 L222.9,600 Q222.8,602.6 221,603.6 L201.6,614 L199.8,606 L196.7,291 Q196.9,286.8 199.6,286.6 Z" fill="url(#gFront)"/>
<path d="M199.6,286.6 L219,286.6 Q222.5,286.8 222.7,290.4 L222.9,600 Q222.8,602.6 221,603.6 L201.6,614 L199.8,606 L196.7,291 Q196.9,286.8 199.6,286.6 Z" fill="url(#gFaceX)"/>
<clipPath id="cH"><path d="M204.6,295.2 L281.6,294.4 Q286.2,294.6 287.5,300 C289,309 291.6,326 293.1,340 C294.4,352 295.6,365 296.4,380 C297.2,392 297,402 296.1,413.4 C295.4,422 294.8,429 293.75,436.9 C292.8,445 291.6,453 290.3,460.3 C289,468 287.4,475 285.9,480.6 Q284.4,486.6 282.8,491.6 Q281.4,496.8 277,498.8 C263,504.4 248,509.8 236,510.4 L205.6,510.5 Q203.5,510.4 203.4,508.4 L203.4,486 Q203.4,484.2 205.4,483.6 L223.5,478.8 C235,477.8 243,477.6 250,476.7 Q258.4,475.4 261.7,468 C262.8,463 263.4,458 263.75,452.5 C264.6,441 265.2,431 265.2,421 C265.5,410 265.6,400 265.6,390 C265.8,372 266,355 266,340 Q265.6,328.4 258,327.3 L204.6,326.8 Q201.9,326.7 201.6,324 L201.6,298.2 Q201.7,295.4 204.6,295.2 Z"/></clipPath>
<g clip-path="url(#cH)">
<rect x="195" y="288" width="110" height="230" fill="#8e8e8e"/>
<path d="M195,288 L273,288 L272.8,326 L266,327.6 L195,327.6 Z" fill="url(#gArm)"/>
<path d="M195,470 L270.4,470 L269.6,515 L195,515 Z" fill="url(#gArm2)"/>
<clipPath id="cSide"><path d="M272.4,288 L273.0,322 Q273.2,329 275,334 L275.8,390 L275,437 Q273.6,458 270.3,471 L269.5,499 L269.5,516 L312,516 L312,288 Z"/></clipPath>
<g clip-path="url(#cSide)"><g fill="none" stroke-linejoin="round" filter="url(#fB05)">
<path d="M255,294.6 L281.6,294.4 Q286.2,294.6 287.5,300 C289,309 291.6,326 293.1,340 C294.4,352 295.6,365 296.4,380 C297.2,392 297,402 296.1,413.4 C295.4,422 294.8,429 293.75,436.9 C292.8,445 291.6,453 290.3,460.3 C289,468 287.4,475 285.9,480.6 Q284.4,486.6 282.8,491.6 Q281.4,496.8 277,498.8 L262,505" stroke="#878787" stroke-width="42.0"/>
<path d="M255,294.6 L281.6,294.4 Q286.2,294.6 287.5,300 C289,309 291.6,326 293.1,340 C294.4,352 295.6,365 296.4,380 C297.2,392 297,402 296.1,413.4 C295.4,422 294.8,429 293.75,436.9 C292.8,445 291.6,453 290.3,460.3 C289,468 287.4,475 285.9,480.6 Q284.4,486.6 282.8,491.6 Q281.4,496.8 277,498.8 L262,505" stroke="#8a8a8a" stroke-width="39.0"/>
<path d="M255,294.6 L281.6,294.4 Q286.2,294.6 287.5,300 C289,309 291.6,326 293.1,340 C294.4,352 295.6,365 296.4,380 C297.2,392 297,402 296.1,413.4 C295.4,422 294.8,429 293.75,436.9 C292.8,445 291.6,453 290.3,460.3 C289,468 287.4,475 285.9,480.6 Q284.4,486.6 282.8,491.6 Q281.4,496.8 277,498.8 L262,505" stroke="#909090" stroke-width="36.0"/>
<path d="M255,294.6 L281.6,294.4 Q286.2,294.6 287.5,300 C289,309 291.6,326 293.1,340 C294.4,352 295.6,365 296.4,380 C297.2,392 297,402 296.1,413.4 C295.4,422 294.8,429 293.75,436.9 C292.8,445 291.6,453 290.3,460.3 C289,468 287.4,475 285.9,480.6 Q284.4,486.6 282.8,491.6 Q281.4,496.8 277,498.8 L262,505" stroke="#979797" stroke-width="33.0"/>
<path d="M255,294.6 L281.6,294.4 Q286.2,294.6 287.5,300 C289,309 291.6,326 293.1,340 C294.4,352 295.6,365 296.4,380 C297.2,392 297,402 296.1,413.4 C295.4,422 294.8,429 293.75,436.9 C292.8,445 291.6,453 290.3,460.3 C289,468 287.4,475 285.9,480.6 Q284.4,486.6 282.8,491.6 Q281.4,496.8 277,498.8 L262,505" stroke="#9e9e9e" stroke-width="30.0"/>
<path d="M255,294.6 L281.6,294.4 Q286.2,294.6 287.5,300 C289,309 291.6,326 293.1,340 C294.4,352 295.6,365 296.4,380 C297.2,392 297,402 296.1,413.4 C295.4,422 294.8,429 293.75,436.9 C292.8,445 291.6,453 290.3,460.3 C289,468 287.4,475 285.9,480.6 Q284.4,486.6 282.8,491.6 Q281.4,496.8 277,498.8 L262,505" stroke="#a4a4a4" stroke-width="27.0"/>
<path d="M255,294.6 L281.6,294.4 Q286.2,294.6 287.5,300 C289,309 291.6,326 293.1,340 C294.4,352 295.6,365 296.4,380 C297.2,392 297,402 296.1,413.4 C295.4,422 294.8,429 293.75,436.9 C292.8,445 291.6,453 290.3,460.3 C289,468 287.4,475 285.9,480.6 Q284.4,486.6 282.8,491.6 Q281.4,496.8 277,498.8 L262,505" stroke="#a8a8a8" stroke-width="24.0"/>
<path d="M255,294.6 L281.6,294.4 Q286.2,294.6 287.5,300 C289,309 291.6,326 293.1,340 C294.4,352 295.6,365 296.4,380 C297.2,392 297,402 296.1,413.4 C295.4,422 294.8,429 293.75,436.9 C292.8,445 291.6,453 290.3,460.3 C289,468 287.4,475 285.9,480.6 Q284.4,486.6 282.8,491.6 Q281.4,496.8 277,498.8 L262,505" stroke="#a9a9a9" stroke-width="21.0"/>
<path d="M255,294.6 L281.6,294.4 Q286.2,294.6 287.5,300 C289,309 291.6,326 293.1,340 C294.4,352 295.6,365 296.4,380 C297.2,392 297,402 296.1,413.4 C295.4,422 294.8,429 293.75,436.9 C292.8,445 291.6,453 290.3,460.3 C289,468 287.4,475 285.9,480.6 Q284.4,486.6 282.8,491.6 Q281.4,496.8 277,498.8 L262,505" stroke="#a5a5a5" stroke-width="18.0"/>
<path d="M255,294.6 L281.6,294.4 Q286.2,294.6 287.5,300 C289,309 291.6,326 293.1,340 C294.4,352 295.6,365 296.4,380 C297.2,392 297,402 296.1,413.4 C295.4,422 294.8,429 293.75,436.9 C292.8,445 291.6,453 290.3,460.3 C289,468 287.4,475 285.9,480.6 Q284.4,486.6 282.8,491.6 Q281.4,496.8 277,498.8 L262,505" stroke="#9e9e9e" stroke-width="15.0"/>
<path d="M255,294.6 L281.6,294.4 Q286.2,294.6 287.5,300 C289,309 291.6,326 293.1,340 C294.4,352 295.6,365 296.4,380 C297.2,392 297,402 296.1,413.4 C295.4,422 294.8,429 293.75,436.9 C292.8,445 291.6,453 290.3,460.3 C289,468 287.4,475 285.9,480.6 Q284.4,486.6 282.8,491.6 Q281.4,496.8 277,498.8 L262,505" stroke="#959595" stroke-width="12.0"/>
<path d="M255,294.6 L281.6,294.4 Q286.2,294.6 287.5,300 C289,309 291.6,326 293.1,340 C294.4,352 295.6,365 296.4,380 C297.2,392 297,402 296.1,413.4 C295.4,422 294.8,429 293.75,436.9 C292.8,445 291.6,453 290.3,460.3 C289,468 287.4,475 285.9,480.6 Q284.4,486.6 282.8,491.6 Q281.4,496.8 277,498.8 L262,505" stroke="#8b8b8b" stroke-width="9.0"/>
<path d="M255,294.6 L281.6,294.4 Q286.2,294.6 287.5,300 C289,309 291.6,326 293.1,340 C294.4,352 295.6,365 296.4,380 C297.2,392 297,402 296.1,413.4 C295.4,422 294.8,429 293.75,436.9 C292.8,445 291.6,453 290.3,460.3 C289,468 287.4,475 285.9,480.6 Q284.4,486.6 282.8,491.6 Q281.4,496.8 277,498.8 L262,505" stroke="#838383" stroke-width="6.0"/>
<path d="M255,294.6 L281.6,294.4 Q286.2,294.6 287.5,300 C289,309 291.6,326 293.1,340 C294.4,352 295.6,365 296.4,380 C297.2,392 297,402 296.1,413.4 C295.4,422 294.8,429 293.75,436.9 C292.8,445 291.6,453 290.3,460.3 C289,468 287.4,475 285.9,480.6 Q284.4,486.6 282.8,491.6 Q281.4,496.8 277,498.8 L262,505" stroke="#7d7d7d" stroke-width="3.2"/>
</g>
<path d="M264,476 L300,470 L300,520 L264,520 Z" fill="#818181" filter="url(#fB2)"/>
<path d="M269.6,472 L270.6,472 L270.2,499 L269.4,499 Z" fill="#9a9a9a" filter="url(#fB05)"/>
</g>
<path d="M200,294 L284,293.4 L286,296.4 L200,297.2 Z" fill="#a6a6a6" fill-opacity="0.75" filter="url(#fB05)"/>
<path d="M200,325 L260,325.4 L260,328 L200,328 Z" fill="#ffffff" fill-opacity="0.10"/>
<path d="M203,483.6 L223.5,478 C235,477 243,476.8 250,475.9 Q257.6,474.8 261,468.6 L266.8,470.8 Q262,479.4 252,480.6 C244,481.4 235,481.6 224,482.6 L203,488.4 Z" fill="#b2b2b2" fill-opacity="0.9" filter="url(#fB05)"/>
<path d="M266.4,338 C266.2,355 266,372 265.9,390 C265.9,400 265.8,410 265.5,421 C265.5,431 264.9,441 264.05,452.5 C263.7,458 263.1,463 262,468" fill="none" stroke="#a6a6a6" stroke-width="1.3" filter="url(#fB05)"/>
</g>
</g>
</svg>
</body>
</html>
